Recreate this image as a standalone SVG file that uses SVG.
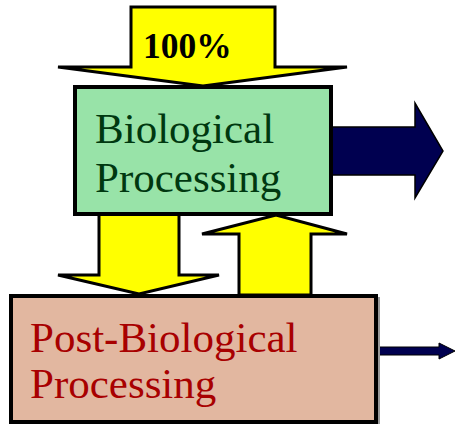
<svg xmlns="http://www.w3.org/2000/svg" width="455" height="424" viewBox="0 0 455 424">
<style>
.yarrow{fill:#FFFF00;stroke:#000;stroke-width:3;stroke-linejoin:miter}
.box{stroke:#000;stroke-width:4}
.lbl{font-family:"Liberation Serif","Times New Roman",serif;font-size:43px}
</style>
<rect width="455" height="424" fill="#fff"/>
<g id="connectors">
<polygon id="arrow-in" class="yarrow" points="131,7 275,7 275,67 347,67 203,86 58,67 131,67"/>
<text x="143" y="58" font-family="'Liberation Serif','Times New Roman',serif" font-size="35.5" font-weight="bold" fill="#000">100%</text>
<polygon id="arrow-down" class="yarrow" points="99,214 179,214 179,275 219,275 139,294 58,275 99,275"/>
<polygon id="arrow-up" class="yarrow" points="239,295 311,295 311,234 347,234 276,215 202,234 239,234"/>
<polygon id="arrow-out-bio" fill="#000050" stroke="#000" stroke-width="1.5" points="332,127 415,127 415,103 443,151 415,198 415,175 332,175"/>
<polygon id="arrow-out-post" fill="#000050" stroke="#000" stroke-width="1" points="378,347 439,347 439,343 455,351 439,359 439,355 378,355"/>
</g>
<g id="bio">
<rect class="box" x="75" y="87" width="256" height="127" fill="#98E3A8"/>
<text class="lbl" fill="#003810"><tspan x="95" y="143">Biological</tspan><tspan x="95" y="192">Processing</tspan></text>
</g>
<g id="post">
<rect x="12" y="297" width="368" height="127" fill="#999"/>
<rect class="box" x="11" y="296" width="365" height="126" fill="#E2B7A0"/>
<text class="lbl" fill="#A80000"><tspan x="30" y="352">Post-Biological</tspan><tspan x="30" y="398">Processing</tspan></text>
</g>
</svg>
